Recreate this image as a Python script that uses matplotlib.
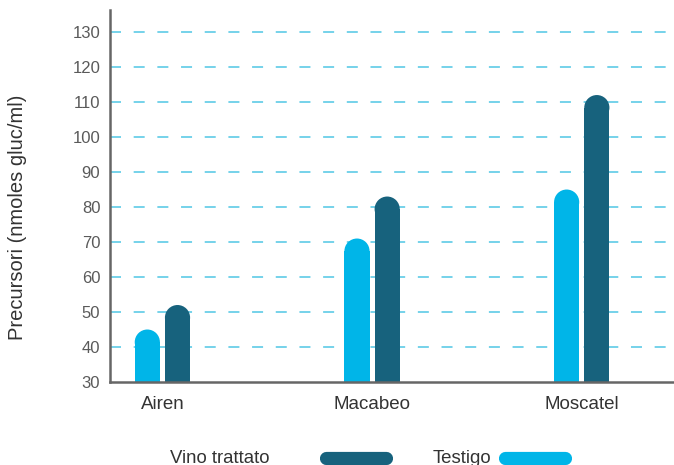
import numpy as np
import matplotlib
matplotlib.use("Agg")
import matplotlib.pyplot as plt
from matplotlib.patches import Ellipse
from matplotlib.lines import Line2D

plt.rcParams["font.family"] = ["Liberation Sans", "DejaVu Sans"]

categories = ["Airen", "Macabeo", "Moscatel"]
testigo = [45, 71, 85]
trattato = [52, 83, 112]
yticks = [30, 40, 50, 60, 70, 80, 90, 100, 110, 120, 130]

C_LIGHT = "#00B5E8"
C_DARK = "#17627D"
C_GRID = "#4FC6E4"

W, H, DPI = 674, 465, 100
fig = plt.figure(figsize=(W / DPI, H / DPI), dpi=DPI)
# axes: left 110px, right 674px, bottom y=382px, top y=10px
ax = fig.add_axes([110 / W, (H - 382) / H, (W - 110) / W, (382 - 10) / H])

ymin, ymax = 30, 136.3
ax.set_xlim(-0.25, 2.44)
ax.set_ylim(ymin, ymax)

bw = 0.12
off = 0.072
x = np.arange(len(categories))

# px per data unit
px_x = ax.bbox.width / (2.44 + 0.25)
px_y = ax.bbox.height / (ymax - ymin)
r_px = bw * px_x / 2
r_y = r_px / px_y

for xs, vals, col in [(x - off, testigo, C_LIGHT), (x + off, trattato, C_DARK)]:
    bodies = [v - r_y - ymin for v in vals]
    ax.bar(xs, bodies, width=bw, bottom=ymin, color=col, zorder=3, linewidth=0)
    for xi, v in zip(xs, vals):
        ax.add_patch(Ellipse((xi, v - r_y), bw, 2 * r_y, color=col,
                             zorder=3, linewidth=0))

for t in yticks[1:]:
    ax.axhline(t, color=C_GRID, lw=1.1, dashes=(7.2, 8.3), zorder=1)

ax.set_yticks(yticks)
ax.set_yticklabels([str(t) for t in yticks], color="#5a5a5a", fontsize=12)
ax.set_xticks(x)
ax.set_xticklabels(categories, color="#333333", fontsize=13.5)
ax.tick_params(axis="both", length=0)
ax.tick_params(axis="y", pad=7)
ax.tick_params(axis="x", pad=10)

for s in ["top", "right"]:
    ax.spines[s].set_visible(False)
for s in ["left", "bottom"]:
    ax.spines[s].set_color("#666666")
    ax.spines[s].set_linewidth(1.8)
    ax.spines[s].set_zorder(4)

fig.text(18 / W, 1 - 217 / H, "Precursori (nmoles gluc/ml)", rotation=90,
         ha="center", va="center", fontsize=14.5, color="#333333")

# legend along the bottom
ly = 1 - 458 / H
fig.text(170 / W, ly, "Vino trattato", ha="left", va="center",
         fontsize=13.4, color="#333333")
fig.text(433 / W, ly, "Testigo", ha="left", va="center",
         fontsize=13.4, color="#333333")
for x0, x1, col in [(326, 386, C_DARK), (505, 565, C_LIGHT)]:
    fig.add_artist(Line2D([x0 / W, x1 / W], [ly, ly], lw=9.5, color=col,
                          solid_capstyle="round", transform=fig.transFigure))

fig.savefig("out.png", dpi=DPI)
